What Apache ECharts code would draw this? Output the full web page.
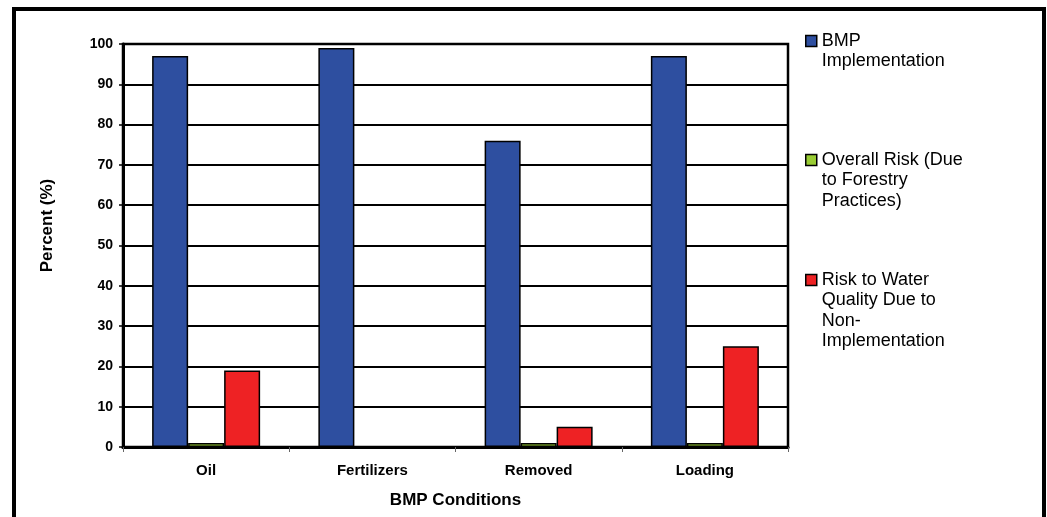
<!DOCTYPE html>
<html>
<head>
<meta charset="utf-8">
<script src="https://cdn.jsdelivr.net/npm/echarts@6/dist/echarts.min.js"></script>
<style>
html,body{margin:0;padding:0;background:#fff;}
#chart{width:1047px;height:517px;}
</style>
</head>
<body>
<div id="chart"></div>
<script>
const categories = ['Oil', 'Fertilizers', 'Removed', 'Loading'];
const seriesNames = [
  'BMP\nImplementation',
  'Overall Risk (Due\nto Forestry\nPractices)',
  'Risk to Water\nQuality Due to\nNon-\nImplementation'
];
const bmpImplementation = [97, 99, 76, 97];
const overallRisk = [1, 0, 1, 1];
const riskWaterQuality = [19, 0, 5, 25];
const yTicks = [0, 10, 20, 30, 40, 50, 60, 70, 80, 90, 100];

const colors = ['#2E4FA0', '#99CC33', '#EE2224'];
const seriesData = [bmpImplementation, overallRisk, riskWaterQuality];
const legendFirstLine = [41, 160, 280];
const LH = 20.5;

const chart = echarts.init(document.getElementById('chart'));

const legends = seriesNames.map((name, i) => {
  const n = name.split('\n').length;
  return {
    data: [name],
    orient: 'vertical',
    left: 805,
    top: legendFirstLine[i] - (n - 1) * LH - LH / 2,
    itemWidth: 11,
    itemHeight: 11,
    itemGap: 5,
    icon: 'rect',
    selectedMode: false,
    padding: 0,
    formatter: function (nm) {
      const k = nm.split('\n').length;
      let s = '';
      for (let j = 0; j < k - 1; j++) s += ' \n';
      return s + nm;
    },
    textStyle: {
      fontFamily: 'Liberation Sans, Arial, sans-serif',
      fontSize: 18,
      color: '#000',
      lineHeight: LH
    },
    itemStyle: { borderColor: '#000', borderWidth: 1.5 }
  };
});

chart.setOption({
  animation: false,
  backgroundColor: '#fff',
  textStyle: { fontFamily: 'Liberation Sans, Arial, sans-serif' },
  graphic: [{
    type: 'rect',
    shape: { x: 14, y: 9, width: 1030, height: 600 },
    style: { fill: null, stroke: '#000', lineWidth: 4 },
    silent: true,
    z: 100
  }],
  legend: legends,
  grid: {
    left: 123, right: 1047 - 788, top: 44, bottom: 517 - 447,
    show: true, borderColor: '#000', borderWidth: 2.5, backgroundColor: 'transparent'
  },
  xAxis: {
    type: 'category',
    data: categories,
    name: 'BMP Conditions',
    nameLocation: 'middle',
    nameGap: 45,
    nameTextStyle: { fontSize: 17, fontWeight: 'bold', color: '#000' },
    axisLine: { lineStyle: { color: '#000', width: 3 } },
    axisTick: { show: true, length: 5, lineStyle: { color: '#666', width: 1 } },
    axisLabel: { fontSize: 15, fontWeight: 'bold', color: '#000', margin: 16 }
  },
  yAxis: {
    type: 'value',
    min: yTicks[0],
    max: yTicks[yTicks.length - 1],
    interval: 10,
    name: 'Percent (%)',
    nameLocation: 'middle',
    nameGap: 67,
    nameTextStyle: { fontSize: 17, fontWeight: 'bold', color: '#000', padding: [0, 0, 0, 40] },
    axisLine: { show: true, lineStyle: { color: '#000', width: 3 } },
    axisTick: { show: true, length: 4, lineStyle: { color: '#000', width: 1.5 } },
    axisLabel: { fontSize: 14, fontWeight: 'bold', color: '#000', margin: 10 },
    splitLine: { show: true, lineStyle: { color: '#000', width: 1.8 } }
  },
  series: seriesNames.map((name, i) => ({
    name: name,
    type: 'bar',
    data: seriesData[i],
    barWidth: 36,
    barGap: '0%',
    itemStyle: { color: colors[i], borderColor: '#000', borderWidth: 1.5 },
    emphasis: { disabled: true }
  }))
});
</script>
</body>
</html>
